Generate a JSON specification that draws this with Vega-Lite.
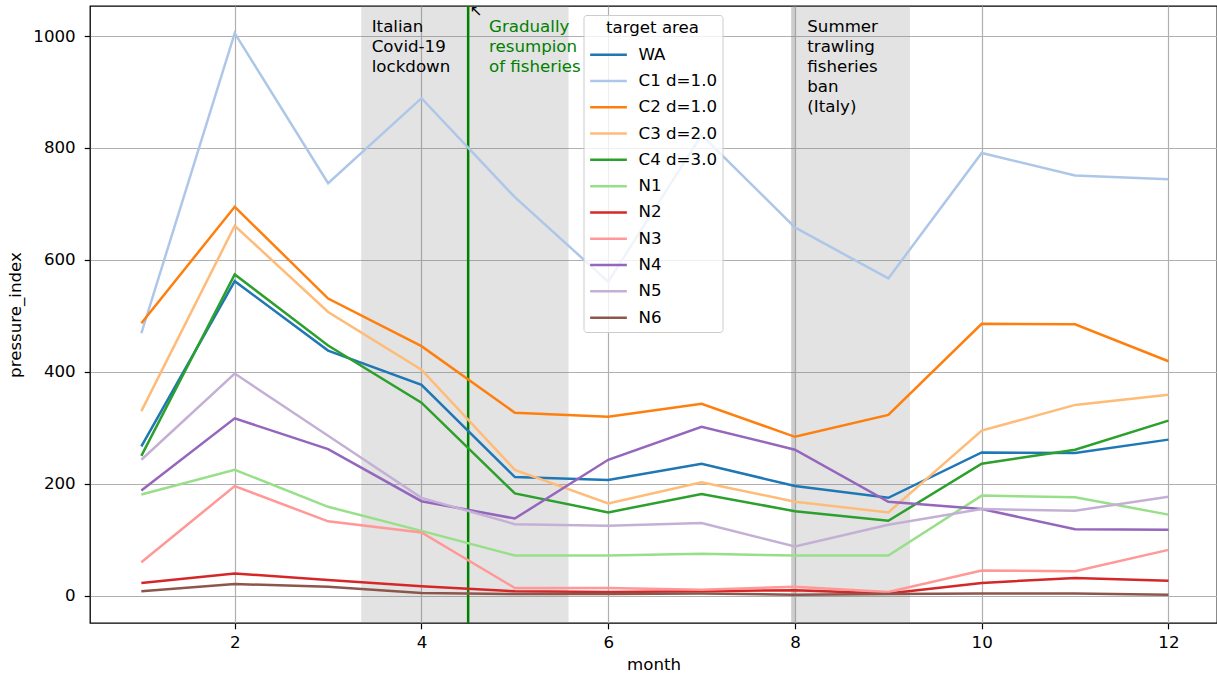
{
  "$schema": "https://vega.github.io/schema/vega-lite/v6.json",
  "width": 1127,
  "height": 617,
  "autosize": {"type": "none"},
  "padding": {"left": 90, "top": 6, "right": 0, "bottom": 56},
  "background": "white",
  "config": {
    "font": "DejaVu Sans",
    "view": {"stroke": "#000000", "strokeWidth": 1.3},
    "axis": {
      "labelFont": "DejaVu Sans", "labelFontSize": 16.67, "labelColor": "#000000",
      "titleFont": "DejaVu Sans", "titleFontSize": 16.67, "titleFontWeight": "normal", "titleColor": "#000000",
      "tickColor": "#000000", "tickSize": 5.8, "tickWidth": 1.2,
      "domain": false, "grid": true, "gridColor": "#b0b0b0", "gridWidth": 1.2
    },
    "legend": {
      "labelFont": "DejaVu Sans", "titleFont": "DejaVu Sans"
    }
  },
  "datasets": {
    "series": [
      {"month":1,"area":"WA","pressure_index":267},{"month":2,"area":"WA","pressure_index":562},{"month":3,"area":"WA","pressure_index":438},{"month":4,"area":"WA","pressure_index":377},{"month":5,"area":"WA","pressure_index":212},{"month":6,"area":"WA","pressure_index":207},{"month":7,"area":"WA","pressure_index":236},{"month":8,"area":"WA","pressure_index":196},{"month":9,"area":"WA","pressure_index":175},{"month":10,"area":"WA","pressure_index":256},{"month":11,"area":"WA","pressure_index":255},{"month":12,"area":"WA","pressure_index":279},
      {"month":1,"area":"C1 d=1.0","pressure_index":469},{"month":2,"area":"C1 d=1.0","pressure_index":1005},{"month":3,"area":"C1 d=1.0","pressure_index":737},{"month":4,"area":"C1 d=1.0","pressure_index":889},{"month":5,"area":"C1 d=1.0","pressure_index":712},{"month":6,"area":"C1 d=1.0","pressure_index":561},{"month":7,"area":"C1 d=1.0","pressure_index":823},{"month":8,"area":"C1 d=1.0","pressure_index":658},{"month":9,"area":"C1 d=1.0","pressure_index":567},{"month":10,"area":"C1 d=1.0","pressure_index":791},{"month":11,"area":"C1 d=1.0","pressure_index":751},{"month":12,"area":"C1 d=1.0","pressure_index":744},
      {"month":1,"area":"C2 d=1.0","pressure_index":487},{"month":2,"area":"C2 d=1.0","pressure_index":695},{"month":3,"area":"C2 d=1.0","pressure_index":531},{"month":4,"area":"C2 d=1.0","pressure_index":446},{"month":5,"area":"C2 d=1.0","pressure_index":327},{"month":6,"area":"C2 d=1.0","pressure_index":320},{"month":7,"area":"C2 d=1.0","pressure_index":343},{"month":8,"area":"C2 d=1.0","pressure_index":284},{"month":9,"area":"C2 d=1.0","pressure_index":323},{"month":10,"area":"C2 d=1.0","pressure_index":486},{"month":11,"area":"C2 d=1.0","pressure_index":485},{"month":12,"area":"C2 d=1.0","pressure_index":419},
      {"month":1,"area":"C3 d=2.0","pressure_index":330},{"month":2,"area":"C3 d=2.0","pressure_index":661},{"month":3,"area":"C3 d=2.0","pressure_index":507},{"month":4,"area":"C3 d=2.0","pressure_index":404},{"month":5,"area":"C3 d=2.0","pressure_index":225},{"month":6,"area":"C3 d=2.0","pressure_index":165},{"month":7,"area":"C3 d=2.0","pressure_index":203},{"month":8,"area":"C3 d=2.0","pressure_index":168},{"month":9,"area":"C3 d=2.0","pressure_index":149},{"month":10,"area":"C3 d=2.0","pressure_index":295},{"month":11,"area":"C3 d=2.0","pressure_index":341},{"month":12,"area":"C3 d=2.0","pressure_index":359},
      {"month":1,"area":"C4 d=3.0","pressure_index":250},{"month":2,"area":"C4 d=3.0","pressure_index":574},{"month":3,"area":"C4 d=3.0","pressure_index":447},{"month":4,"area":"C4 d=3.0","pressure_index":345},{"month":5,"area":"C4 d=3.0","pressure_index":183},{"month":6,"area":"C4 d=3.0","pressure_index":149},{"month":7,"area":"C4 d=3.0","pressure_index":182},{"month":8,"area":"C4 d=3.0","pressure_index":151},{"month":9,"area":"C4 d=3.0","pressure_index":134},{"month":10,"area":"C4 d=3.0","pressure_index":236},{"month":11,"area":"C4 d=3.0","pressure_index":261},{"month":12,"area":"C4 d=3.0","pressure_index":313},
      {"month":1,"area":"N1","pressure_index":181},{"month":2,"area":"N1","pressure_index":225},{"month":3,"area":"N1","pressure_index":159},{"month":4,"area":"N1","pressure_index":116},{"month":5,"area":"N1","pressure_index":72},{"month":6,"area":"N1","pressure_index":72},{"month":7,"area":"N1","pressure_index":75},{"month":8,"area":"N1","pressure_index":72},{"month":9,"area":"N1","pressure_index":72},{"month":10,"area":"N1","pressure_index":179},{"month":11,"area":"N1","pressure_index":176},{"month":12,"area":"N1","pressure_index":145},
      {"month":1,"area":"N2","pressure_index":23},{"month":2,"area":"N2","pressure_index":40},{"month":3,"area":"N2","pressure_index":28},{"month":4,"area":"N2","pressure_index":17},{"month":5,"area":"N2","pressure_index":8},{"month":6,"area":"N2","pressure_index":7},{"month":7,"area":"N2","pressure_index":8},{"month":8,"area":"N2","pressure_index":10},{"month":9,"area":"N2","pressure_index":4},{"month":10,"area":"N2","pressure_index":23},{"month":11,"area":"N2","pressure_index":32},{"month":12,"area":"N2","pressure_index":27},
      {"month":1,"area":"N3","pressure_index":60},{"month":2,"area":"N3","pressure_index":196},{"month":3,"area":"N3","pressure_index":133},{"month":4,"area":"N3","pressure_index":113},{"month":5,"area":"N3","pressure_index":14},{"month":6,"area":"N3","pressure_index":14},{"month":7,"area":"N3","pressure_index":11},{"month":8,"area":"N3","pressure_index":16},{"month":9,"area":"N3","pressure_index":7},{"month":10,"area":"N3","pressure_index":45},{"month":11,"area":"N3","pressure_index":44},{"month":12,"area":"N3","pressure_index":82},
      {"month":1,"area":"N4","pressure_index":188},{"month":2,"area":"N4","pressure_index":317},{"month":3,"area":"N4","pressure_index":262},{"month":4,"area":"N4","pressure_index":169},{"month":5,"area":"N4","pressure_index":138},{"month":6,"area":"N4","pressure_index":243},{"month":7,"area":"N4","pressure_index":302},{"month":8,"area":"N4","pressure_index":261},{"month":9,"area":"N4","pressure_index":168},{"month":10,"area":"N4","pressure_index":155},{"month":11,"area":"N4","pressure_index":119},{"month":12,"area":"N4","pressure_index":118},
      {"month":1,"area":"N5","pressure_index":243},{"month":2,"area":"N5","pressure_index":397},{"month":3,"area":"N5","pressure_index":286},{"month":4,"area":"N5","pressure_index":175},{"month":5,"area":"N5","pressure_index":128},{"month":6,"area":"N5","pressure_index":125},{"month":7,"area":"N5","pressure_index":130},{"month":8,"area":"N5","pressure_index":88},{"month":9,"area":"N5","pressure_index":127},{"month":10,"area":"N5","pressure_index":155},{"month":11,"area":"N5","pressure_index":152},{"month":12,"area":"N5","pressure_index":177},
      {"month":1,"area":"N6","pressure_index":8},{"month":2,"area":"N6","pressure_index":21},{"month":3,"area":"N6","pressure_index":16},{"month":4,"area":"N6","pressure_index":5},{"month":5,"area":"N6","pressure_index":3},{"month":6,"area":"N6","pressure_index":3},{"month":7,"area":"N6","pressure_index":4},{"month":8,"area":"N6","pressure_index":2},{"month":9,"area":"N6","pressure_index":3},{"month":10,"area":"N6","pressure_index":4},{"month":11,"area":"N6","pressure_index":4},{"month":12,"area":"N6","pressure_index":2}
    ],
    "spans": [
      {"start": 3.355, "end": 5.575},
      {"start": 7.96, "end": 9.232},
      {"start": 7.96, "end": 8.0}
    ],
    "events": [{"month": 4.5}],
    "notes_black": [
      {"month": 3.467, "value": 1007, "label": "Italian\nCovid-19\nlockdown"},
      {"month": 8.132, "value": 1007, "label": "Summer\ntrawling\nfisheries\nban\n(Italy)"}
    ],
    "notes_green": [
      {"month": 4.723, "value": 1007, "label": "Gradually\nresumpion\nof fisheries"}
    ],
    "arrow": [
      {"month": 4.585, "value": 1045, "label": "↖"}
    ]
  },
  "layer": [
    {
      "data": {"name": "spans"},
      "mark": {"type": "rect", "fill": "#808080", "opacity": 0.22},
      "encoding": {
        "x": {"field": "start", "type": "quantitative", "title": "month", "scale": {"domain": [0.45, 12.52], "nice": false, "zero": false}, "axis": {"values": [2,4,6,8,10,12], "format": "d", "title": "month", "labelPadding": 6, "titlePadding": 5}},
        "x2": {"field": "end"}
      }
    },
    {
      "data": {"name": "events"},
      "mark": {"type": "rule", "color": "#008000", "strokeWidth": 2.5},
      "encoding": {
        "x": {"field": "month", "type": "quantitative", "title": "month"}
      }
    },
    {
      "data": {"name": "series"},
      "mark": {"type": "line", "strokeWidth": 2.5, "clip": true},
      "encoding": {
        "x": {"field": "month", "type": "quantitative", "title": "month"},
        "y": {"field": "pressure_index", "type": "quantitative", "title": "pressure_index", "scale": {"domain": [-48.6, 1053.6], "nice": false, "zero": false}, "axis": {"values": [0,200,400,600,800,1000], "format": "d", "labelPadding": 9, "titlePadding": 8}},
        "color": {
          "field": "area", "type": "nominal",
          "scale": {
            "domain": ["WA","C1 d=1.0","C2 d=1.0","C3 d=2.0","C4 d=3.0","N1","N2","N3","N4","N5","N6"],
            "range": ["#1f77b4","#aec7e8","#ff7f0e","#ffbb78","#2ca02c","#98df8a","#d62728","#ff9896","#9467bd","#c5b0d5","#8c564b"]
          },
          "legend": {
            "title": "target area",
            "orient": "none", "legendX": 493.5, "legendY": 9,
            "direction": "vertical",
            "symbolType": "M-2.5,0H2.5", "symbolSize": 216, "symbolStrokeWidth": 2.5,
            "symbolOffset": 11,
            "labelFontSize": 16.67, "labelColor": "#000000", "labelOffset": 21,
            "titleFontSize": 16.67, "titleFontWeight": "normal", "titleColor": "#000000",
            "titleAnchor": "middle", "titleAlign": "center", "titlePadding": 9,
            "rowPadding": 8.3,
            "padding": 5,
            "fillColor": "rgba(255,255,255,0.8)", "strokeColor": "#cccccc", "cornerRadius": 3
          }
        }
      }
    },
    {
      "data": {"name": "notes_black"},
      "mark": {"type": "text", "align": "left", "baseline": "alphabetic", "lineBreak": "\n", "lineHeight": 20, "fontSize": 16.67, "font": "DejaVu Sans", "color": "#000000"},
      "encoding": {
        "x": {"field": "month", "type": "quantitative", "title": "month"},
        "y": {"field": "value", "type": "quantitative", "title": "pressure_index"},
        "text": {"field": "label"}
      }
    },
    {
      "data": {"name": "notes_green"},
      "mark": {"type": "text", "align": "left", "baseline": "alphabetic", "lineBreak": "\n", "lineHeight": 20, "fontSize": 16.67, "font": "DejaVu Sans", "color": "#008000"},
      "encoding": {
        "x": {"field": "month", "type": "quantitative", "title": "month"},
        "y": {"field": "value", "type": "quantitative", "title": "pressure_index"},
        "text": {"field": "label"}
      }
    },
    {
      "data": {"name": "arrow"},
      "mark": {"type": "text", "align": "center", "baseline": "middle", "fontSize": 15, "font": "DejaVu Sans", "color": "#000000"},
      "encoding": {
        "x": {"field": "month", "type": "quantitative", "title": "month"},
        "y": {"field": "value", "type": "quantitative", "title": "pressure_index"},
        "text": {"field": "label"}
      }
    }
  ]
}
